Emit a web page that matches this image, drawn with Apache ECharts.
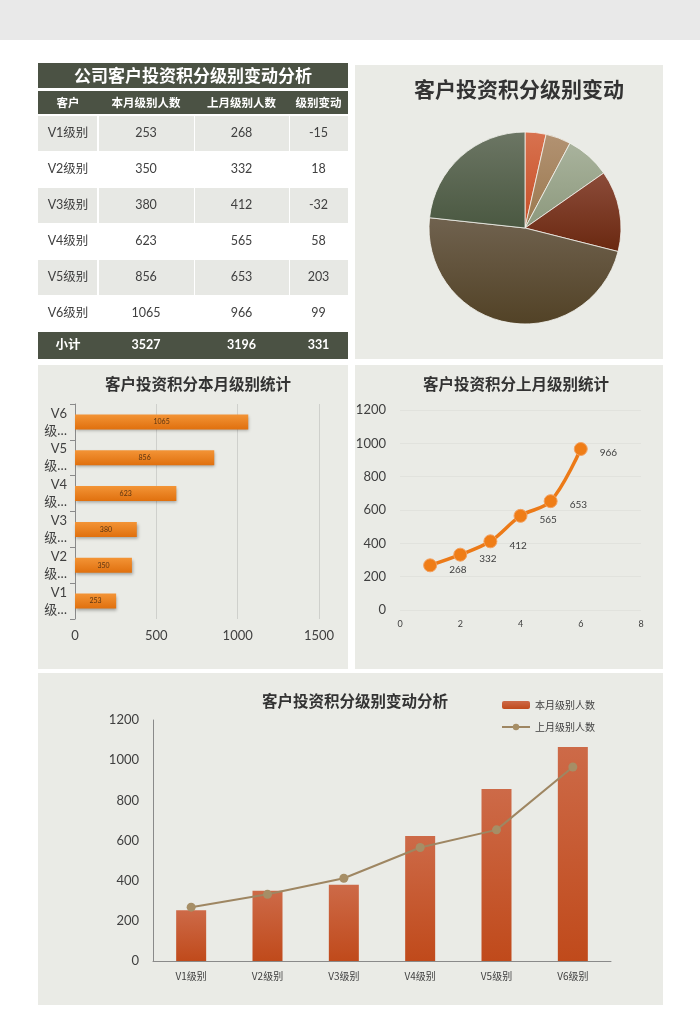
<!DOCTYPE html>
<html>
<head>
<meta charset="utf-8">
<script src="https://cdn.jsdelivr.net/npm/echarts@6/dist/echarts.min.js"></script>
<style>
  html, body { margin: 0; padding: 0; background: #ffffff; }
  #wrap { position: relative; width: 700px; height: 1030px; overflow: hidden; }
  .bg { position: absolute; }
  #chart { position: absolute; left: 0; top: 0; width: 700px; height: 1030px; }
</style>
</head>
<body>
<div id="wrap">
  <div class="bg" style="left:0;top:0;width:700px;height:40px;background:#e9e9e9;"></div>
  <div class="bg" style="left:355px;top:65px;width:308px;height:294px;background:#eaebe6;"></div>
  <div class="bg" style="left:38px;top:365px;width:310px;height:304px;background:#eaebe6;"></div>
  <div class="bg" style="left:355px;top:365px;width:308px;height:304px;background:#eaebe6;"></div>
  <div class="bg" style="left:38px;top:673px;width:625px;height:332px;background:#eaebe6;"></div>
  <div id="chart"></div>
</div>
<script>
// ---------------- data ----------------
const categories = ['V1级别', 'V2级别', 'V3级别', 'V4级别', 'V5级别', 'V6级别'];
const thisMonth = [253, 350, 380, 623, 856, 1065];
const lastMonth = [268, 332, 412, 565, 653, 966];
const change = [-15, 18, -32, 58, 203, 99];
const totals = [3527, 3196, 331];
const lastMonthX = [1, 2, 3, 4, 5, 6];
const tableTitle = '公司客户投资积分级别变动分析';
const tableHeaders = ['客户', '本月级别人数', '上月级别人数', '级别变动'];
const totalLabel = '小计';
const seriesNames = ['本月级别人数', '上月级别人数'];
const titles = ['客户投资积分级别变动', '客户投资积分本月级别统计', '客户投资积分上月级别统计', '客户投资积分级别变动分析'];

// ---------------- styling ----------------
const FONT = 'Lato, "Noto Sans CJK SC", sans-serif';
const DARK = '#4b5244';
const TXT = '#404040';
const plain = v => String(v);

function lg(a, b) {
  return new echarts.graphic.LinearGradient(0, 0, 0, 1, [{offset: 0, color: a}, {offset: 1, color: b}]);
}

// ---------------- table (graphic) ----------------
const colEdges = [38, 98, 194, 289, 348];
const rowTop0 = 116, rowH = 36;
const graphics = [];
graphics.push({type: 'rect', shape: {x: 38, y: 63, width: 310, height: 25}, style: {fill: DARK}});
graphics.push({type: 'text', x: 193, y: 76, style: {text: tableTitle, fill: '#ffffff', font: 'bold 17px "Noto Sans CJK SC"', textAlign: 'center', textVerticalAlign: 'middle'}});
graphics.push({type: 'rect', shape: {x: 38, y: 91, width: 310, height: 23}, style: {fill: DARK}});
tableHeaders.forEach((h, c) => {
  graphics.push({type: 'text', x: (colEdges[c] + colEdges[c + 1]) / 2, y: 103,
    style: {text: h, fill: '#ffffff', font: 'bold 11.5px "Noto Sans CJK SC"', textAlign: 'center', textVerticalAlign: 'middle'}});
});
categories.forEach((cat, r) => {
  const y = rowTop0 + r * rowH;
  const vals = [cat, thisMonth[r], lastMonth[r], change[r]];
  vals.forEach((v, c) => {
    if (r % 2 === 0) {
      graphics.push({type: 'rect', shape: {x: colEdges[c] + (c ? 1 : 0), y: y, width: colEdges[c + 1] - colEdges[c] - 1, height: rowH - 1}, style: {fill: '#e7e8e4'}});
    }
    graphics.push({type: 'text', x: (colEdges[c] + colEdges[c + 1]) / 2, y: y + rowH / 2 - 1,
      style: {text: String(v), fill: TXT, font: '12.5px ' + FONT, textAlign: 'center', textVerticalAlign: 'middle'}});
  });
});
graphics.push({type: 'rect', shape: {x: 38, y: 332, width: 310, height: 27}, style: {fill: DARK}});
[totalLabel].concat(totals).forEach((v, c) => {
  graphics.push({type: 'text', x: (colEdges[c] + colEdges[c + 1]) / 2, y: 345,
    style: {text: String(v), fill: '#ffffff', font: 'bold 12.5px ' + FONT, textAlign: 'center', textVerticalAlign: 'middle'}});
});

// ---------------- pie colours ----------------
const pieColors = [
  lg('#d8724f', '#c64e26'),
  lg('#b29272', '#9a784e'),
  lg('#a9b39d', '#8c987c'),
  lg('#8c4c3a', '#6a2810'),
  lg('#70624f', '#524226'),
  lg('#6c7664', '#4a5841')
];

const chart = echarts.init(document.getElementById('chart'), null, {renderer: 'canvas'});
const option = {
  backgroundColor: 'transparent',
  animation: false,
  textStyle: {fontFamily: FONT},
  title: [
    {text: titles[0], left: 514, top: 74, textAlign: 'center', textStyle: {fontSize: 21, fontWeight: 'bold', color: '#333', fontFamily: '"Noto Sans CJK SC"'}},
    {text: titles[1], left: 193, top: 371, textAlign: 'center', textStyle: {fontSize: 15.5, fontWeight: 'bold', color: '#333', fontFamily: '"Noto Sans CJK SC"'}},
    {text: titles[2], left: 511, top: 371, textAlign: 'center', textStyle: {fontSize: 15.5, fontWeight: 'bold', color: '#333', fontFamily: '"Noto Sans CJK SC"'}},
    {text: titles[3], left: 350, top: 688, textAlign: 'center', textStyle: {fontSize: 15.5, fontWeight: 'bold', color: '#333', fontFamily: '"Noto Sans CJK SC"'}}
  ],
  legend: {
    orient: 'vertical', left: 496, top: 695, itemWidth: 28, itemHeight: 8, itemGap: 12,
    data: seriesNames,
    textStyle: {fontSize: 10, color: TXT, fontFamily: '"Noto Sans CJK SC"'}
  },
  grid: [
    {left: 75, top: 404, width: 244, height: 215},
    {left: 400, top: 410, width: 241, height: 200},
    {left: 153, top: 720, width: 458, height: 241}
  ],
  xAxis: [
    {gridIndex: 0, type: 'value', min: 0, max: 1500, interval: 500,
      axisLine: {show: false}, axisTick: {show: false},
      splitLine: {lineStyle: {color: '#cfd0cc'}},
      axisLabel: {fontSize: 13, color: TXT, margin: 10, formatter: plain}},
    {gridIndex: 1, type: 'value', min: 0, max: 8, interval: 2,
      axisLine: {show: false}, axisTick: {show: false}, splitLine: {show: false},
      axisLabel: {fontSize: 9, color: TXT, margin: 10, formatter: plain}},
    {gridIndex: 2, type: 'category', data: categories,
      axisLine: {lineStyle: {color: '#8a8a8a'}}, axisTick: {show: false},
      axisLabel: {fontSize: 10, color: TXT, margin: 10, fontFamily: '"Noto Sans CJK SC"'}}
  ],
  yAxis: [
    {gridIndex: 0, type: 'category', data: categories,
      axisLine: {lineStyle: {color: '#8a8a8a'}},
      axisTick: {show: true, length: 5, lineStyle: {color: '#8a8a8a'}},
      axisLabel: {fontSize: 13, color: TXT, lineHeight: 17, margin: 8,
        formatter: v => v.slice(0, 2) + '\n' + v.slice(2, 3) + '…'}},
    {gridIndex: 1, type: 'value', min: 0, max: 1200, interval: 200,
      axisLine: {show: false}, axisTick: {show: false},
      splitLine: {lineStyle: {color: '#e1e2dd'}},
      axisLabel: {fontSize: 13, color: TXT, margin: 14, formatter: plain}},
    {gridIndex: 2, type: 'value', min: 0, max: 1200, interval: 200,
      axisLine: {show: true, lineStyle: {color: '#8a8a8a'}}, axisTick: {show: false},
      splitLine: {show: false},
      axisLabel: {fontSize: 13, color: TXT, margin: 14, formatter: plain}}
  ],
  series: [
    {
      type: 'pie', center: [525, 228], radius: 96, startAngle: 90, clockwise: true,
      label: {show: false}, labelLine: {show: false},
      itemStyle: {borderColor: '#f2f2ee', borderWidth: 0.8},
      data: categories.map((c, i) => ({name: c, value: Math.abs(change[i]), itemStyle: {color: pieColors[i]}}))
    },
    {
      type: 'bar', xAxisIndex: 0, yAxisIndex: 0, data: thisMonth, barWidth: 15,
      itemStyle: {color: lg('#f39436', '#e0700e'), shadowColor: 'rgba(0,0,0,0.3)', shadowBlur: 3, shadowOffsetX: 1, shadowOffsetY: 2},
      label: {show: true, position: 'inside', fontSize: 7, color: '#5a3412'}
    },
    {
      type: 'line', xAxisIndex: 1, yAxisIndex: 1, smooth: 0.35,
      data: lastMonthX.map((x, i) => [x, lastMonth[i]]),
      lineStyle: {color: '#ec7a18', width: 3.5},
      symbol: 'circle', symbolSize: 13,
      itemStyle: {color: '#ef7d17', borderColor: '#f2a060', borderWidth: 1},
      label: {show: true, position: 'right', distance: 12, offset: [0, 4], fontSize: 10, color: TXT,
        formatter: p => p.value[1]}
    },
    {
      name: seriesNames[0], type: 'bar', xAxisIndex: 2, yAxisIndex: 2, data: thisMonth, barWidth: 30,
      itemStyle: {color: lg('#cd6a48', '#c04a1b')}
    },
    {
      name: seriesNames[1], type: 'line', xAxisIndex: 2, yAxisIndex: 2, data: lastMonth,
      lineStyle: {color: '#9e8662', width: 2}, symbol: 'circle', symbolSize: 9,
      itemStyle: {color: '#a68e66'}
    }
  ],
  graphic: graphics
};
chart.setOption(option);
</script>
</body>
</html>
